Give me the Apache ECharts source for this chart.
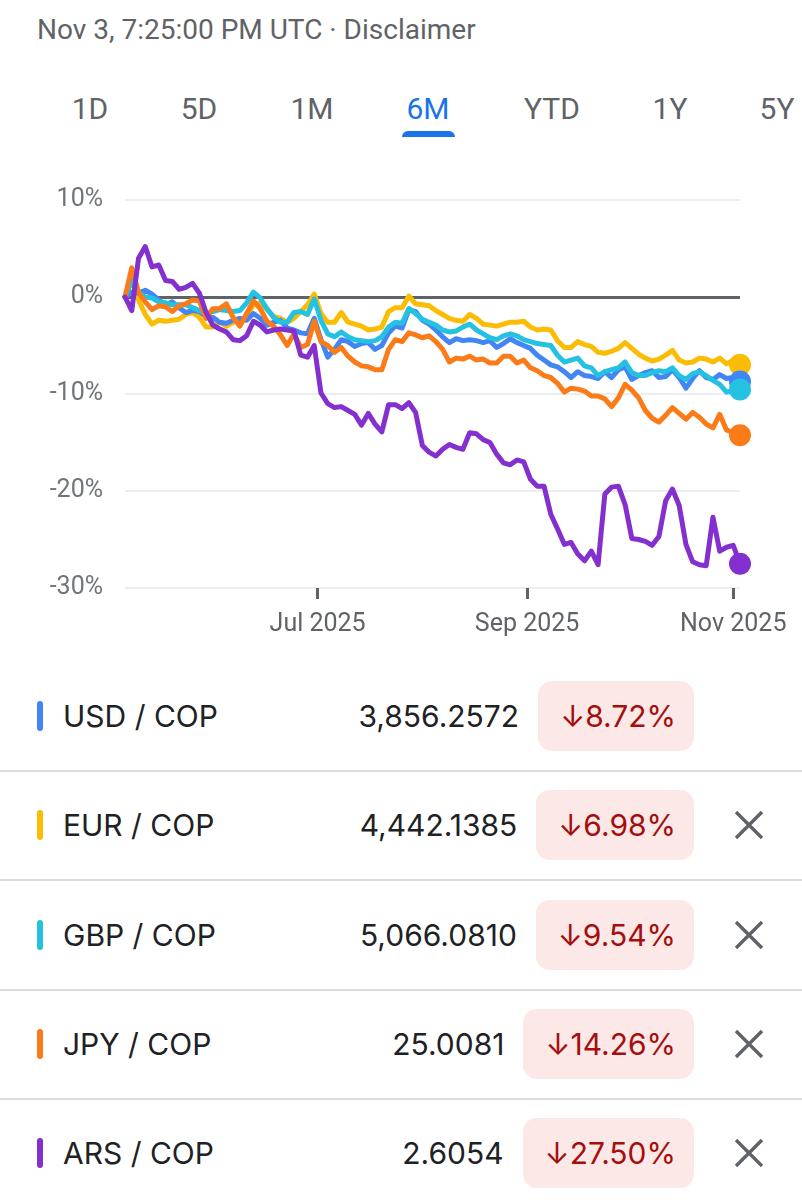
<!DOCTYPE html>
<html>
<head>
<meta charset="utf-8">
<script src="https://cdn.jsdelivr.net/npm/echarts@6/dist/echarts.min.js"></script>
<style>
  html, body { margin: 0; padding: 0; background: #fff; }
  body { width: 802px; height: 1200px; position: relative; overflow: hidden; font-family: Roboto, "Noto Sans", sans-serif; }
  .abs { position: absolute; }
  #stamp { left: 37px; top: 13px; font-size: 28px; line-height: 34px; color: #5f6368; white-space: nowrap; }
  .tab { top: 92px; font-size: 30px; line-height: 34px; color: #5f6368; transform: translateX(-50%); white-space: nowrap; }
  .tab.on { color: #1a73e8; }
  #under { left: 402px; top: 131px; width: 53px; height: 6px; background: #1a73e8; border-radius: 6px 6px 0 0; }
  #chart { left: 0; top: 150px; width: 802px; height: 500px; }
  .sep { left: 0; width: 802px; height: 2px; background: #dadce0; }
  .bar { left: 37px; width: 6px; height: 30px; border-radius: 3px; }
  .name { left: 63px; font-family: Inter, Roboto, sans-serif; font-size: 30px; line-height: 40px; color: #202124; white-space: nowrap; }
  .right { right: 108px; height: 70px; display: flex; align-items: center; gap: 19px; font-family: Inter, Roboto, sans-serif; font-size: 30px; white-space: nowrap; }
  .price { color: #202124; }
  .pill { height: 70px; line-height: 70px; padding: 0 18px 0 22px; border-radius: 14px; background: #fce8e6; color: #a50e0e; }
  .x { left: 733px; width: 32px; height: 32px; }
</style>
</head>
<body>
<div id="stamp" class="abs">Nov 3, 7:25:00 PM UTC · Disclaimer</div>
<div id="tabs"></div>
<div id="under" class="abs"></div>
<div id="chart" class="abs"></div>
<div id="rows"></div>
<script>
// ---- data ----
var ranges = ['1D', '5D', '1M', '6M', 'YTD', '1Y', '5Y'];
var activeRange = '6M';

var dates = [
  '2025-05-05','2025-05-07','2025-05-09','2025-05-11','2025-05-13','2025-05-15','2025-05-17','2025-05-19','2025-05-21','2025-05-23',
  '2025-05-25','2025-05-27','2025-05-29','2025-05-31','2025-06-02','2025-06-04','2025-06-06','2025-06-08','2025-06-10','2025-06-12',
  '2025-06-14','2025-06-16','2025-06-18','2025-06-20','2025-06-22','2025-06-24','2025-06-26','2025-06-28','2025-06-30','2025-07-02',
  '2025-07-04','2025-07-06','2025-07-08','2025-07-10','2025-07-12','2025-07-14','2025-07-16','2025-07-18','2025-07-20','2025-07-22',
  '2025-07-24','2025-07-26','2025-07-28','2025-07-30','2025-08-01','2025-08-03','2025-08-05','2025-08-07','2025-08-09','2025-08-11',
  '2025-08-13','2025-08-15','2025-08-17','2025-08-19','2025-08-21','2025-08-23','2025-08-25','2025-08-27','2025-08-29','2025-08-31',
  '2025-09-02','2025-09-04','2025-09-06','2025-09-08','2025-09-10','2025-09-12','2025-09-14','2025-09-16','2025-09-18','2025-09-20',
  '2025-09-22','2025-09-24','2025-09-26','2025-09-28','2025-09-30','2025-10-02','2025-10-04','2025-10-06','2025-10-08','2025-10-10',
  '2025-10-12','2025-10-14','2025-10-16','2025-10-18','2025-10-20','2025-10-22','2025-10-24','2025-10-26','2025-10-28','2025-10-30',
  '2025-11-01','2025-11-03'
];

// % change since start, one value per date
var usd = [
  0, 0.5, 0.4, 0.7, 0.3, -0.3, -0.8, -0.5, -1.1, -1.6,
  -1.4, -1.5, -2.0, -2.1, -2.6, -2.7, -2.4, -2.2, -2.4, -1.7,
  -2.2, -2.9, -2.6, -2.4, -3.2, -3.4, -3.7, -3.8, -2.2, -4.4,
  -6.2, -5.4, -4.4, -4.6, -5.1, -4.8, -4.7, -5.4, -5.0, -3.7,
  -3.0, -3.2, -1.3, -1.5, -2.4, -2.8, -3.4, -4.1, -4.7, -4.3,
  -4.5, -4.4, -4.5, -4.7, -4.5, -5.2, -4.8, -4.3, -4.7, -5.0,
  -5.3, -6.0, -6.5, -7.0, -7.2, -7.7, -8.3, -7.7, -8.1, -8.2,
  -8.4, -7.7, -8.3, -7.5, -7.2, -8.5, -8.1, -7.8, -7.6, -8.3,
  -8.2, -7.5, -8.3, -9.4, -8.4, -7.6, -8.3, -8.5, -8.0, -8.4,
  -8.3, -8.72
];
var eur = [
  0, 1.7, -0.3, -1.8, -2.8, -2.4, -2.5, -2.4, -2.3, -1.8,
  -1.6, -2.1, -3.1, -3.1, -2.6, -3.0, -2.6, -2.4, -2.1, -0.8,
  -0.6, -1.3, -2.0, -2.2, -2.6, -2.2, -1.5, -0.8, 0.3, -1.7,
  -2.6, -2.6, -1.6, -2.6, -2.8, -3.0, -3.4, -3.3, -3.1, -1.5,
  -1.1, -1.1, 0.1, -0.7, -0.8, -0.9, -1.4, -1.8, -2.2, -2.4,
  -2.5, -1.8, -2.2, -2.8, -2.9, -3.0, -2.8, -2.6, -2.6, -2.5,
  -3.1, -3.4, -3.3, -3.4, -4.5, -5.2, -5.2, -4.6, -4.9, -5.1,
  -5.7, -5.8, -5.6, -5.3, -4.7, -5.3, -5.9, -6.3, -6.6, -6.4,
  -6.0, -5.5, -6.5, -6.8, -6.7, -6.3, -6.4, -6.7, -6.3, -6.9,
  -6.5, -6.98
];
var gbp = [
  0, 1.7, 0.5, 0.0, -0.1, -0.5, -0.6, -0.8, -0.8, -0.8,
  -1.1, -1.4, -1.7, -1.5, -1.3, -1.4, -1.5, -1.4, -0.6, 0.5,
  -0.1, -1.2, -2.1, -2.6, -2.6, -1.6, -1.5, -1.8, -0.2, -2.4,
  -3.8, -4.1, -3.6, -4.1, -4.4, -4.5, -4.6, -4.5, -4.1, -3.1,
  -2.6, -2.7, -1.2, -1.7, -2.3, -2.6, -2.9, -3.4, -3.6, -3.5,
  -3.1, -2.8, -3.4, -3.8, -4.2, -4.4, -4.0, -3.8, -4.0, -4.4,
  -4.6, -4.8, -4.9, -5.0, -6.0, -6.7, -6.5, -6.3, -7.1, -7.3,
  -8.1, -7.7, -7.5, -7.3, -6.7, -7.8, -8.1, -8.1, -7.8, -7.6,
  -7.7, -7.3, -8.1, -8.5, -7.9, -7.7, -8.1, -8.6, -9.0, -9.8,
  -9.7, -9.54
];
var jpy = [
  0, 3.0, 0.5, -0.5, -1.3, -0.9, -1.0, -1.5, -0.9, -0.7,
  -0.3, -0.4, -2.2, -1.2, -1.2, -0.7, -2.1, -3.0, -1.7, -0.4,
  -1.2, -2.5, -3.0, -3.9, -5.0, -3.8, -5.2, -4.9, -2.5, -4.6,
  -5.0, -5.7, -5.2, -6.1, -6.7, -7.1, -7.2, -7.5, -7.5, -5.4,
  -4.4, -4.6, -3.7, -3.9, -4.2, -4.0, -4.6, -5.4, -6.7, -6.3,
  -6.4, -6.1, -6.5, -6.4, -6.8, -6.8, -6.1, -6.1, -6.8, -6.5,
  -7.3, -7.6, -8.1, -8.3, -8.9, -9.8, -9.4, -9.5, -9.7, -10.2,
  -10.2, -10.5, -11.3, -10.4, -9.0, -9.6, -10.4, -11.7, -12.5, -12.9,
  -12.2, -11.4, -12.0, -12.6, -11.9, -12.4, -13.1, -13.5, -12.1, -13.7,
  -14.0, -14.26
];
var ars = [
  0, -1.4, 4.0, 5.2, 3.1, 3.3, 1.7, 1.6, 0.8, 1.0,
  1.4, 0.4, -1.6, -2.9, -3.3, -3.6, -4.4, -4.5, -4.0, -2.5,
  -2.9, -3.6, -3.4, -3.3, -3.4, -3.5, -6.0, -6.2, -5.0, -9.9,
  -11.0, -11.4, -11.3, -11.7, -12.1, -13.2, -12.0, -13.1, -13.9, -11.1,
  -11.1, -11.5, -10.9, -11.9, -15.3, -16.0, -16.4, -15.7, -15.2, -15.5,
  -15.7, -14.0, -14.1, -14.7, -15.0, -16.2, -17.1, -17.3, -16.8, -17.0,
  -18.8, -19.5, -19.5, -22.4, -23.9, -25.5, -25.3, -26.5, -27.2, -26.2,
  -27.6, -20.3, -19.6, -19.5, -21.4, -24.9, -25.0, -25.2, -25.6, -24.7,
  -21.0, -19.8, -21.5, -25.5, -27.3, -27.6, -27.7, -22.7, -26.2, -25.8,
  -25.6, -27.5
];

var pairs   = ['USD / COP', 'EUR / COP', 'GBP / COP', 'JPY / COP', 'ARS / COP'];
var prices  = ['3,856.2572', '4,442.1385', '5,066.0810', '25.0081', '2.6054'];
var changes = ['8.72%', '6.98%', '9.54%', '14.26%', '27.50%'];
var colors  = ['#4285f4', '#fbbc04', '#24c1e0', '#fa7b17', '#8430ce'];

var yTicks = [-30, -20, -10, 0, 10];
var xTickDates = ['2025-07-01', '2025-09-01', '2025-11-01'];
var xTickLabels = ['Jul 2025', 'Sep 2025', 'Nov 2025'];

// ---- header tabs ----
var tabX = [90, 199, 312, 428, 552, 670, 777];
var tabs = document.getElementById('tabs');
ranges.forEach(function (r, i) {
  var el = document.createElement('div');
  el.className = 'abs tab' + (r === activeRange ? ' on' : '');
  el.style.left = tabX[i] + 'px';
  el.textContent = r;
  tabs.appendChild(el);
});

// ---- list rows ----
var rows = document.getElementById('rows');
var rowY = 716, rowStep = 109.3;
pairs.forEach(function (p, i) {
  var cy = rowY + rowStep * i;
  var html = '';
  html += '<div class="abs bar" style="top:' + (cy - 15) + 'px;background:' + colors[i] + '"></div>';
  html += '<div class="abs name" style="top:' + (cy - 20) + 'px">' + p + '</div>';
  html += '<div class="abs right" style="top:' + (cy - 35) + 'px"><span class="price">' + prices[i] +
          '</span><span class="pill">\u2193' + changes[i] + '</span></div>';
  if (i > 0) {
    html += '<svg class="abs x" style="top:' + (cy - 16) + 'px" viewBox="0 0 32 32">' +
            '<path d="M3 3L29 29M29 3L3 29" stroke="#5f6368" stroke-width="3.4" fill="none"/></svg>';
  }
  if (i < pairs.length - 1) {
    html += '<div class="abs sep" style="top:' + Math.round(cy + 54) + 'px"></div>';
  }
  rows.insertAdjacentHTML('beforeend', html);
});

// ---- chart ----
function ts(s) {
  var p = s.split('-');
  return Date.UTC(+p[0], +p[1] - 1, +p[2]);
}
var tickValues = xTickDates.map(ts);
var seriesVals = [usd, eur, gbp, jpy, ars];
var drawOrder = [1, 0, 2, 3, 4];

var chart = echarts.init(document.getElementById('chart'), null, { renderer: 'canvas' });

var series = drawOrder.map(function (idx, n) {
  var vals = seriesVals[idx];
  var last = vals.length - 1;
  var s = {
    name: pairs[idx],
    type: 'line',
    data: dates.map(function (d, i) { return [ts(d), vals[i]]; }),
    showSymbol: false,
    symbol: 'none',
    animation: false,
    z: 3 + n,
    lineStyle: { color: colors[idx], width: 5, join: 'round', cap: 'round' },
    itemStyle: { color: colors[idx] },
    markPoint: {
      symbol: 'circle',
      symbolSize: 22,
      animation: false,
      label: { show: false },
      itemStyle: { color: colors[idx] },
      data: [{ coord: [ts(dates[last]), vals[last]] }]
    }
  };
  if (n === 0) {
    s.markLine = {
      silent: true,
      symbol: 'none',
      z: 1,
      animation: false,
      label: { show: false },
      lineStyle: { color: '#5f6368', width: 3, type: 'solid' },
      data: [{ yAxis: 0 }]
    };
  }
  return s;
});

chart.setOption({
  animation: false,
  grid: { left: 125, right: 62, top: 50, bottom: 62 },
  xAxis: {
    type: 'value',
    min: ts(dates[0]),
    max: ts(dates[dates.length - 1]),
    axisLine: { show: false, onZero: false },
    splitLine: { show: false },
    axisTick: {
      show: true,
      customValues: tickValues,
      length: 11,
      lineStyle: { color: '#5f6368', width: 3 }
    },
    axisLabel: {
      customValues: tickValues,
      color: '#5f6368',
      fontFamily: 'Roboto',
      fontSize: 25,
      margin: 24,
      formatter: function (v) {
        var i = tickValues.indexOf(v);
        return i >= 0 ? xTickLabels[i] : '';
      }
    }
  },
  yAxis: {
    type: 'value',
    min: yTicks[0],
    max: yTicks[yTicks.length - 1],
    interval: 10,
    axisLine: { show: false },
    axisTick: { show: false },
    axisLabel: {
      color: '#70757a',
      fontFamily: 'Roboto',
      fontSize: 25,
      margin: 22,
      formatter: '{value}%'
    },
    splitLine: { lineStyle: { color: '#ebedf0', width: 2 } }
  },
  series: series
});
</script>
</body>
</html>
